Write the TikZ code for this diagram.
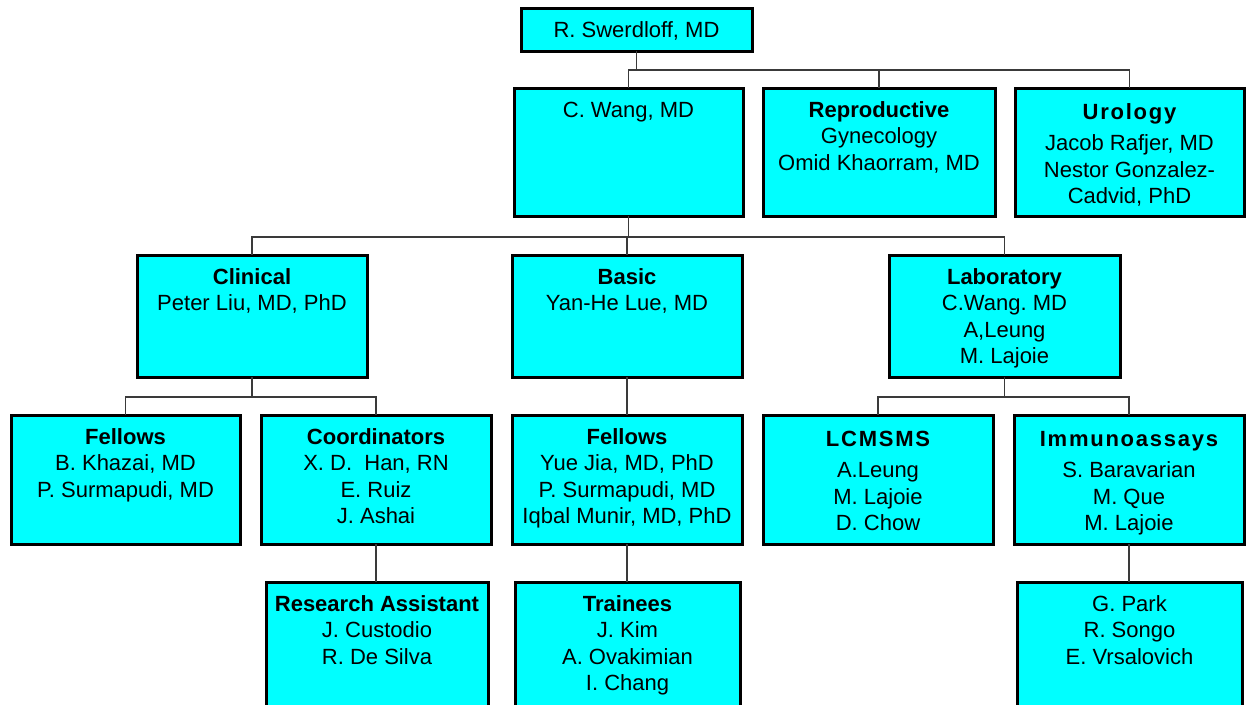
\documentclass[tikz,border=0pt]{standalone}
\usepackage{fontspec}
\setmainfont{Liberation Sans}
\definecolor{boxcyan}{HTML}{00FFFF}
\definecolor{linegray}{HTML}{3A3A3A}
\tikzset{
  obox/.style={draw=black, fill=boxcyan, line width=3pt, rectangle, inner sep=0pt, outer sep=0pt},
  otext/.style={anchor=north, inner sep=0pt, align=center, font=\fontsize{22}{26.5}\selectfont\frenchspacing},
  conn/.style={draw=linegray, line width=1.8pt},
}
% box with text, first baseline 29 below top
\newcommand{\orgnode}[6]{%
  \node[obox, minimum width={#4-#2}, minimum height={#5-#3}] (#1) at ({(#2+#4)/2},{(#3+#5)/2}) {};
  \node[otext] (#1-t) at ([yshift=-10.45pt]#1.north) {\strut #6};%
}
% box with wide, letter-spaced title
\newcommand{\orgnodew}[7]{%
  \node[obox, minimum width={#4-#2}, minimum height={#5-#3}] (#1) at ({(#2+#4)/2},{(#3+#5)/2}) {};
  \node[otext] (#1-t) at ([yshift=-12.45pt]#1.north) {\strut{\bfseries\addfontfeatures{LetterSpace=8}#6}\\[5pt]#7};%
}
\begin{document}
\begin{tikzpicture}[x=1pt,y=-1pt]
\useasboundingbox (0,0) rectangle (1247,704);
% boxes
\orgnode{sw}{521}{8}{752}{51}{R. Swerdloff, MD}
\orgnode{cw}{514}{88}{743}{216}{C. Wang, MD}
\orgnode{rep}{763}{88}{995}{216}{\textbf{Reproductive}\\Gynecology\\Omid Khaorram, MD}
\orgnodew{uro}{1015}{88}{1244}{216}{Urology}{Jacob Rafjer, MD\\Nestor Gonzalez-\\Cadvid, PhD}
\orgnode{cli}{137}{255}{367}{377}{\textbf{Clinical}\\Peter Liu, MD, PhD}
\orgnode{bas}{512}{255}{742}{377}{\textbf{Basic}\\Yan-He Lue, MD}
\orgnode{lab}{889}{255}{1120}{377}{\textbf{Laboratory}\\C.Wang. MD\\A,Leung\\M. Lajoie}
\orgnode{fl}{11}{415}{240}{544}{\textbf{Fellows}\\B. Khazai, MD\\P. Surmapudi, MD}
\orgnode{co}{261}{415}{491}{544}{\textbf{Coordinators}\\X. D.\ \ Han, RN\\E. Ruiz\\J. Ashai}
\orgnode{fm}{512}{415}{742}{544}{\textbf{Fellows}\\Yue Jia, MD, PhD\\P. Surmapudi, MD\\Iqbal Munir, MD, PhD}
\orgnodew{lc}{763}{415}{993}{544}{LCMSMS}{A.Leung\\M. Lajoie\\D. Chow}
\orgnodew{im}{1014}{415}{1244}{544}{Immunoassays}{S. Baravarian\\M. Que\\M. Lajoie}
\orgnode{ra}{266}{582}{488}{716}{\textbf{Research Assistant}\\J. Custodio\\R. De Silva}
\orgnode{tr}{515}{582}{740}{716}{\textbf{Trainees}\\J. Kim\\A. Ovakimian\\I. Chang}
\orgnode{gp}{1017}{582}{1242}{716}{G. Park\\R. Songo\\E. Vrsalovich}
% junction levels
\coordinate (j1) at (636,70);
\coordinate (j2) at (628,237);
\coordinate (j3) at (252,397);
% connectors
\draw[conn] (sw.south) -- (sw.south |- j1);
\draw[conn] (cw.north) |- (uro.north |- j1) -- (uro.north);
\draw[conn] (rep.north) -- (rep.north |- j1);
\draw[conn] (cw.south) -- (cw.south |- j2);
\draw[conn] (cli.north) |- (lab.north |- j2) -- (lab.north);
\draw[conn] (bas.north) -- (bas.north |- j2);
\draw[conn] (cli.south) -- (cli.south |- j3);
\draw[conn] (fl.north) |- (co.north |- j3) -- (co.north);
\draw[conn] (bas.south) -- (bas.south |- fm.north);
\draw[conn] (lab.south) -- (lab.south |- j3);
\draw[conn] (lc.north) |- (im.north |- j3) -- (im.north);
\draw[conn] (co.south) -- (co.south |- ra.north);
\draw[conn] (fm.south) -- (fm.south |- tr.north);
\draw[conn] (im.south) -- (im.south |- gp.north);
\end{tikzpicture}
\end{document}
